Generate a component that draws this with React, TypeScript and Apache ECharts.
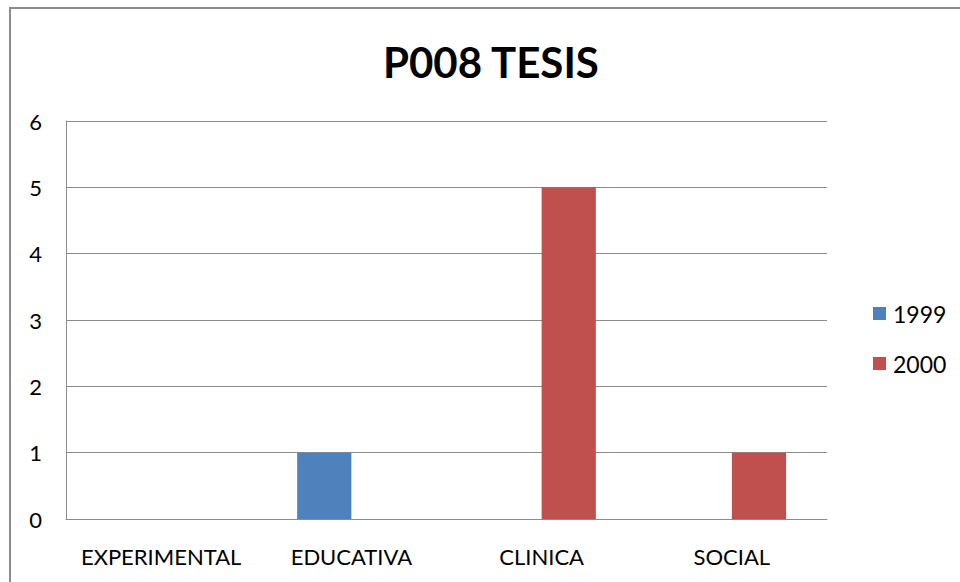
import React, { useEffect, useRef } from "react";
import * as echarts from "echarts";

const categories = ["EXPERIMENTAL", "EDUCATIVA", "CLINICA", "SOCIAL"];
const series1999 = [0, 1, 0, 0];
const series2000 = [0, 0, 5, 1];
const seriesNames = ["1999", "2000"];
const title = "P008 TESIS";

export default function App() {
  const ref = useRef<HTMLDivElement>(null);
  useEffect(() => {
    if (!ref.current) return;
    const chart = echarts.init(ref.current, undefined, { renderer: "svg" });
    const font = "Lato, 'Open Sans', sans-serif";
    chart.setOption({
      animation: false,
      backgroundColor: "#ffffff",
      title: {
        text: title,
        left: 378,
        top: 36,
        textStyle: { fontFamily: font, fontSize: 42, fontWeight: "bold", color: "#000" },
      },
      graphic: [
        {
          type: "rect",
          shape: { x: 10, y: 8, width: 1000, height: 1000 },
          style: { fill: "none", stroke: "#8c8c8c", lineWidth: 2 },
          silent: true,
        },
      ],
      legend: {
        orient: "vertical",
        left: 868,
        top: 297,
        itemWidth: 13,
        itemHeight: 13,
        itemGap: 27,
        icon: "rect",
        textStyle: { fontFamily: font, fontSize: 23, color: "#000", padding: [0, 0, 0, 2] },
        data: seriesNames,
      },
      grid: { left: 66, right: 133, top: 121, bottom: 63, containLabel: false },
      xAxis: {
        type: "category",
        data: categories,
        axisLine: { show: true, lineStyle: { color: "#8c8c8c", width: 1 } },
        axisTick: { show: false },
        axisLabel: { fontFamily: font, fontSize: 22, color: "#000", margin: 26, interval: 0 },
      },
      yAxis: {
        type: "value",
        min: 0,
        max: 6,
        interval: 1,
        axisLine: { show: true, lineStyle: { color: "#8c8c8c", width: 1 } },
        axisTick: { show: false },
        axisLabel: { fontFamily: font, fontSize: 22, color: "#000", margin: 24 },
        splitLine: { show: true, lineStyle: { color: "#8c8c8c", width: 1 } },
      },
      series: [
        {
          name: seriesNames[0],
          type: "bar",
          data: series1999,
          barGap: "0%",
          barCategoryGap: "43%",
          itemStyle: { color: "#4f81bd" },
        },
        {
          name: seriesNames[1],
          type: "bar",
          data: series2000,
          barGap: "0%",
          barCategoryGap: "43%",
          itemStyle: { color: "#c0504d" },
        },
      ],
    });
    return () => chart.dispose();
  }, []);
  return (
    <div
      ref={ref}
      style={{ position: "absolute", left: 0, top: 0, width: 960, height: 582 }}
    />
  );
}
